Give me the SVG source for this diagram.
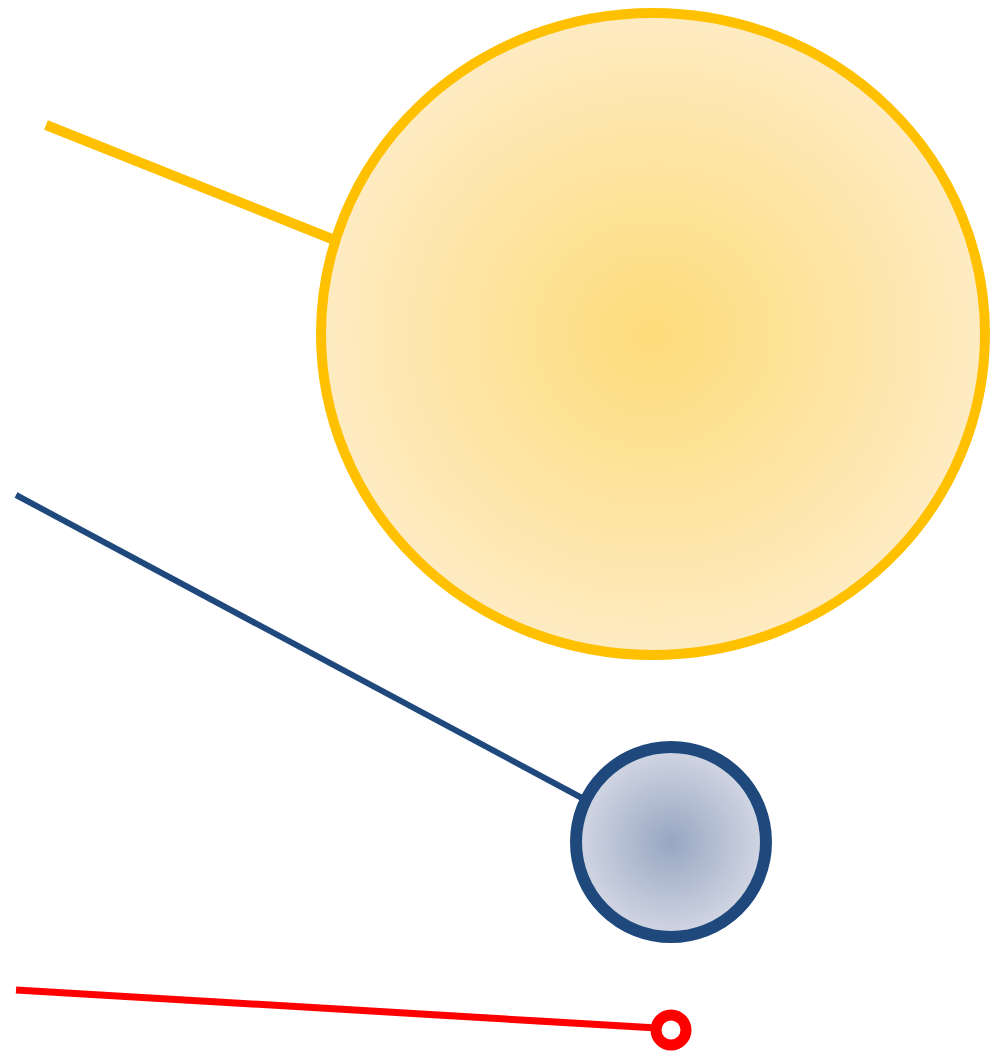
<svg xmlns="http://www.w3.org/2000/svg" width="1000" height="1053" viewBox="0 0 1000 1053">
  <defs>
    <radialGradient id="gy" cx="0.5" cy="0.5" r="0.5">
      <stop offset="0" stop-color="#FDDC7A"/>
      <stop offset="1" stop-color="#FEEBC2"/>
    </radialGradient>
    <radialGradient id="gb" cx="0.5" cy="0.5" r="0.5">
      <stop offset="0" stop-color="#98A6C2"/>
      <stop offset="1" stop-color="#D2D7E3"/>
    </radialGradient>
  </defs>
  <style>
    .conn { fill: none; stroke-linecap: butt; }
  </style>
  <rect width="1000" height="1053" fill="#FFFFFF"/>
  <g id="connectors">
    <line class="conn" x1="46" y1="125" x2="332" y2="239" stroke="#FFC000" stroke-width="10"/>
    <line class="conn" x1="16" y1="495" x2="582" y2="798" stroke="#1F497D" stroke-width="6"/>
    <line class="conn" x1="16" y1="990" x2="657" y2="1028" stroke="#FF0000" stroke-width="7"/>
  </g>
  <g id="sun">
    <ellipse cx="653" cy="334" rx="332" ry="321" fill="url(#gy)" stroke="#FFC000" stroke-width="10"/>
  </g>
  <g id="planet">
    <circle cx="671" cy="842" r="95" fill="url(#gb)" stroke="#1F497D" stroke-width="12"/>
  </g>
  <g id="point">
    <circle cx="671" cy="1030" r="15" fill="#FFFFFF" stroke="#FF0000" stroke-width="11"/>
  </g>
</svg>
